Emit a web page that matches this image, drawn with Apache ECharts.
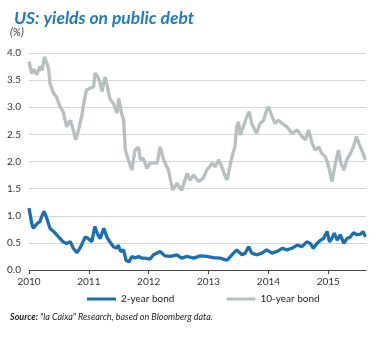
<!DOCTYPE html>
<html><head><meta charset="utf-8">
<script src="https://cdn.jsdelivr.net/npm/echarts@6/dist/echarts.min.js"></script>
<style>html,body{margin:0;padding:0;background:#fff}#c{width:380px;height:338px}</style>
</head><body><div id="c"></div>
<script>
// Decimal-year offsets from 2010 and yields (%)
const t10 = [0.00,0.045,0.08,0.13,0.18,0.22,0.256,0.30,0.33,0.35,0.41,0.46,0.52,0.57,0.63,0.69,0.74,0.78,0.82,0.88,0.91,0.96,1.02,1.08,1.10,1.15,1.19,1.22,1.27,1.31,1.35,1.41,1.47,1.50,1.54,1.58,1.61,1.66,1.72,1.77,1.83,1.86,1.91,1.97,2.02,2.08,2.14,2.19,2.25,2.33,2.40,2.47,2.55,2.64,2.69,2.75,2.83,2.91,2.97,3.06,3.11,3.17,3.22,3.28,3.31,3.39,3.44,3.47,3.50,3.53,3.58,3.64,3.68,3.72,3.80,3.86,3.92,3.97,4.00,4.06,4.11,4.17,4.23,4.31,4.39,4.48,4.56,4.62,4.67,4.73,4.78,4.84,4.89,4.95,4.99,5.02,5.06,5.12,5.17,5.21,5.26,5.31,5.37,5.42,5.47,5.51,5.56,5.62];
const y10 = [3.84,3.62,3.70,3.60,3.75,3.68,3.93,3.81,3.70,3.44,3.26,3.19,3.01,2.92,2.64,2.76,2.58,2.40,2.55,2.83,3.04,3.32,3.35,3.38,3.63,3.56,3.44,3.29,3.56,3.38,3.16,3.07,2.89,3.16,2.92,2.76,2.21,2.03,1.84,2.21,2.27,2.03,2.06,1.87,1.97,1.97,1.97,2.27,2.03,1.84,1.47,1.60,1.47,1.78,1.66,1.75,1.63,1.69,1.84,1.97,1.90,2.03,1.90,1.72,1.66,2.09,2.27,2.64,2.73,2.49,2.64,2.83,2.92,2.70,2.52,2.70,2.76,2.95,3.01,2.83,2.70,2.76,2.70,2.64,2.52,2.58,2.46,2.40,2.58,2.34,2.21,2.27,2.15,2.09,1.97,1.84,1.63,1.97,2.21,1.97,1.84,2.03,2.15,2.27,2.46,2.34,2.21,2.03];
const t2 = [0.00,0.045,0.07,0.10,0.14,0.18,0.21,0.25,0.28,0.31,0.35,0.41,0.46,0.52,0.57,0.63,0.69,0.74,0.80,0.85,0.89,0.94,0.99,1.05,1.10,1.15,1.19,1.22,1.25,1.30,1.35,1.41,1.47,1.49,1.53,1.58,1.62,1.67,1.72,1.77,1.83,1.88,1.94,2.02,2.08,2.19,2.27,2.36,2.47,2.55,2.64,2.75,2.86,2.97,3.08,3.19,3.31,3.39,3.47,3.56,3.61,3.67,3.72,3.81,3.89,3.97,4.06,4.14,4.23,4.31,4.39,4.48,4.56,4.64,4.70,4.75,4.81,4.87,4.92,4.98,5.02,5.06,5.10,5.15,5.20,5.26,5.31,5.37,5.42,5.48,5.54,5.58,5.62];
const y2 = [1.14,0.86,0.77,0.74,0.86,0.89,0.98,1.08,1.01,1.04,0.77,0.71,0.65,0.58,0.52,0.49,0.52,0.40,0.32,0.40,0.49,0.61,0.58,0.52,0.80,0.65,0.58,0.68,0.77,0.61,0.52,0.43,0.40,0.46,0.34,0.37,0.18,0.15,0.25,0.22,0.25,0.22,0.22,0.20,0.28,0.34,0.26,0.25,0.28,0.22,0.25,0.22,0.26,0.25,0.23,0.22,0.18,0.28,0.37,0.28,0.31,0.43,0.31,0.28,0.31,0.37,0.31,0.34,0.40,0.37,0.40,0.46,0.43,0.52,0.49,0.40,0.49,0.55,0.58,0.71,0.52,0.58,0.68,0.55,0.65,0.49,0.58,0.61,0.69,0.65,0.66,0.71,0.61];
const startYear = 2010;
const yearTicks = ['2010','2011','2012','2013','2014','2015'];
const yTicks = ['0.0','0.5','1.0','1.5','2.0','2.5','3.0','3.5','4.0'];
const seriesNames = ['2-year bond','10-year bond'];

const BLUE = '#1c6fae', GREY = '#b7bfc1';
const mk = (t, y) => t.map((v, i) => [startYear + v, y[i]]);
const chart = echarts.init(document.getElementById('c'), null, {renderer: 'canvas'});
const FF = 'Lato, "Open Sans", sans-serif';
chart.setOption({
  animation: false,
  textStyle: {fontFamily: FF},
  title: {
    text: 'US: yields on public debt', left: 9, top: 4,
    textStyle: {fontSize: 17.5, fontWeight: 'bold', fontStyle: 'italic', color: '#2479b9', fontFamily: FF}
  },
  grid: {left: 29, right: 14, top: 53, bottom: 68},
  xAxis: {
    type: 'value', min: 2010, max: 2015.63, interval: 1,
    axisLine: {lineStyle: {color: '#444', width: 1}},
    axisTick: {show: true, length: 4, lineStyle: {color: '#444'}},
    splitLine: {show: false},
    axisLabel: {showMaxLabel: false, color: '#333', fontSize: 10, margin: 7,
      formatter: v => yearTicks[Math.round(v - startYear)] || ''}
  },
  yAxis: {
    type: 'value', min: 0, max: 4, interval: 0.5,
    axisLine: {show: false}, axisTick: {show: false},
    splitLine: {lineStyle: {color: '#d6d6d6', width: 1}},
    axisLabel: {color: '#333', fontSize: 10, margin: 8, formatter: v => yTicks[Math.round(v * 2)]}
  },
  legend: {
    bottom: 29, left: 82, itemGap: 52, itemWidth: 29, itemHeight: 3,
    icon: 'rect', textStyle: {fontSize: 10, color: '#222'},
    data: seriesNames
  },
  series: [
    {name: seriesNames[1], type: 'line', data: mk(t10, y10), showSymbol: false, symbol: 'none',
      lineStyle: {color: GREY, width: 3.3}, itemStyle: {color: GREY}},
    {name: seriesNames[0], type: 'line', data: mk(t2, y2), showSymbol: false, symbol: 'none',
      lineStyle: {color: BLUE, width: 3.3}, itemStyle: {color: BLUE}}
  ],
  graphic: [{
    type: 'text', left: 10, top: 27,
    style: {text: '(%)', fontStyle: 'italic', fontSize: 11, fontFamily: FF, fill: '#333'}
  }, {
    type: 'text', left: 10, top: 313,
    style: {
      text: '{b|Source:} "la Caixa" Research, based on Bloomberg data.',
      rich: {b: {fontWeight: 'bold', fontStyle: 'italic', fontSize: 9, fontFamily: FF, fill: '#222'}},
      fontStyle: 'italic', fontSize: 9, fontFamily: FF, fill: '#222'
    }
  }]
});
</script></body></html>
